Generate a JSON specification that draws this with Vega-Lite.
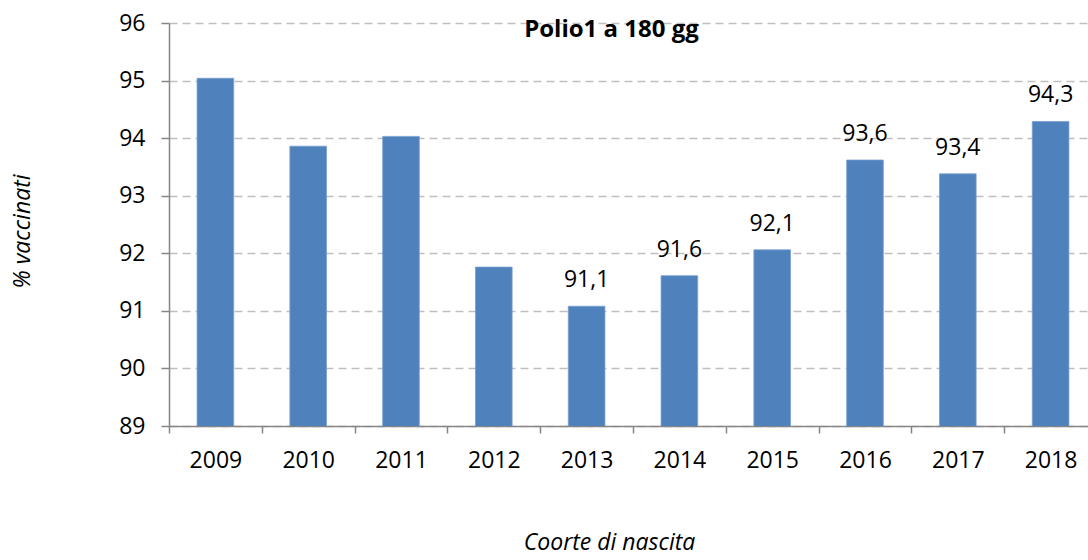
{
  "$schema": "https://vega.github.io/schema/vega-lite/v6.json",
  "autosize": {"type": "none"},
  "width": 919,
  "height": 403,
  "padding": {"left": 169, "top": 23, "right": 0, "bottom": 134},
  "background": "white",
  "config": {
    "view": {"stroke": null},
    "font": "Open Sans",
    "locale": {"number": {"decimal": ",", "thousands": ".", "grouping": [3], "currency": ["", " €"]}}
  },
  "title": {
    "text": "Polio1 a 180 gg",
    "font": "Open Sans",
    "fontSize": 24,
    "fontWeight": "bold",
    "color": "#000000",
    "anchor": "middle",
    "dx": -17,
    "offset": -30,
    "baseline": "top"
  },
  "data": {
    "values": [
      {"year": "2009", "value": 95.04},
      {"year": "2010", "value": 93.86},
      {"year": "2011", "value": 94.03},
      {"year": "2012", "value": 91.76},
      {"year": "2013", "value": 91.08},
      {"year": "2014", "value": 91.61},
      {"year": "2015", "value": 92.06},
      {"year": "2016", "value": 93.62},
      {"year": "2017", "value": 93.38},
      {"year": "2018", "value": 94.29}
    ]
  },
  "encoding": {
    "x": {
      "field": "year",
      "type": "ordinal",
      "scale": {"type": "band", "range": [0, 928], "paddingInner": 0, "paddingOuter": 0},
      "axis": {
        "title": "Coorte di nascita",
        "titleFont": "Open Sans",
        "titleFontSize": 23,
        "titleFontStyle": "italic",
        "titleFontWeight": "normal",
        "titleColor": "#000000",
        "titlePadding": 59,
        "titleX": 440,
        "labelAngle": 0,
        "labelFont": "Open Sans",
        "labelFontSize": 23,
        "labelColor": "#000000",
        "labelPadding": 16,
        "domainColor": "#868686",
        "domainWidth": 1.5,
        "tickColor": "#868686",
        "tickWidth": 1.5,
        "tickSize": 7,
        "tickBand": "extent",
        "grid": false
      }
    },
    "y": {
      "field": "value",
      "type": "quantitative",
      "scale": {"domain": [89, 96], "nice": false, "zero": false},
      "axis": {
        "title": "% vaccinati",
        "titleFont": "Open Sans",
        "titleFontSize": 23,
        "titleFontStyle": "italic",
        "titleFontWeight": "normal",
        "titleColor": "#000000",
        "titlePadding": 84,
        "titleY": 208,
        "values": [89, 90, 91, 92, 93, 94, 95, 96],
        "labelFont": "Open Sans",
        "labelFontSize": 23,
        "labelColor": "#000000",
        "labelPadding": 16,
        "domainColor": "#868686",
        "domainWidth": 1.5,
        "tickColor": "#868686",
        "tickWidth": 1.5,
        "tickSize": 8,
        "grid": true,
        "gridColor": "#bfbfbf",
        "gridWidth": 1.3,
        "gridDash": [8, 5]
      }
    }
  },
  "layer": [
    {
      "mark": {"type": "bar", "clip": true, "width": {"band": 0.395}, "color": "#4f81bd", "stroke": "#7a9fd0", "strokeWidth": 0.8}
    },
    {
      "transform": [{"filter": "toNumber(datum.year) >= 2013"}],
      "mark": {"type": "text", "font": "Open Sans", "fontSize": 23, "color": "#000000", "baseline": "alphabetic", "dy": -19},
      "encoding": {
        "text": {"field": "value", "type": "quantitative", "format": ".1f"}
      }
    }
  ]
}
